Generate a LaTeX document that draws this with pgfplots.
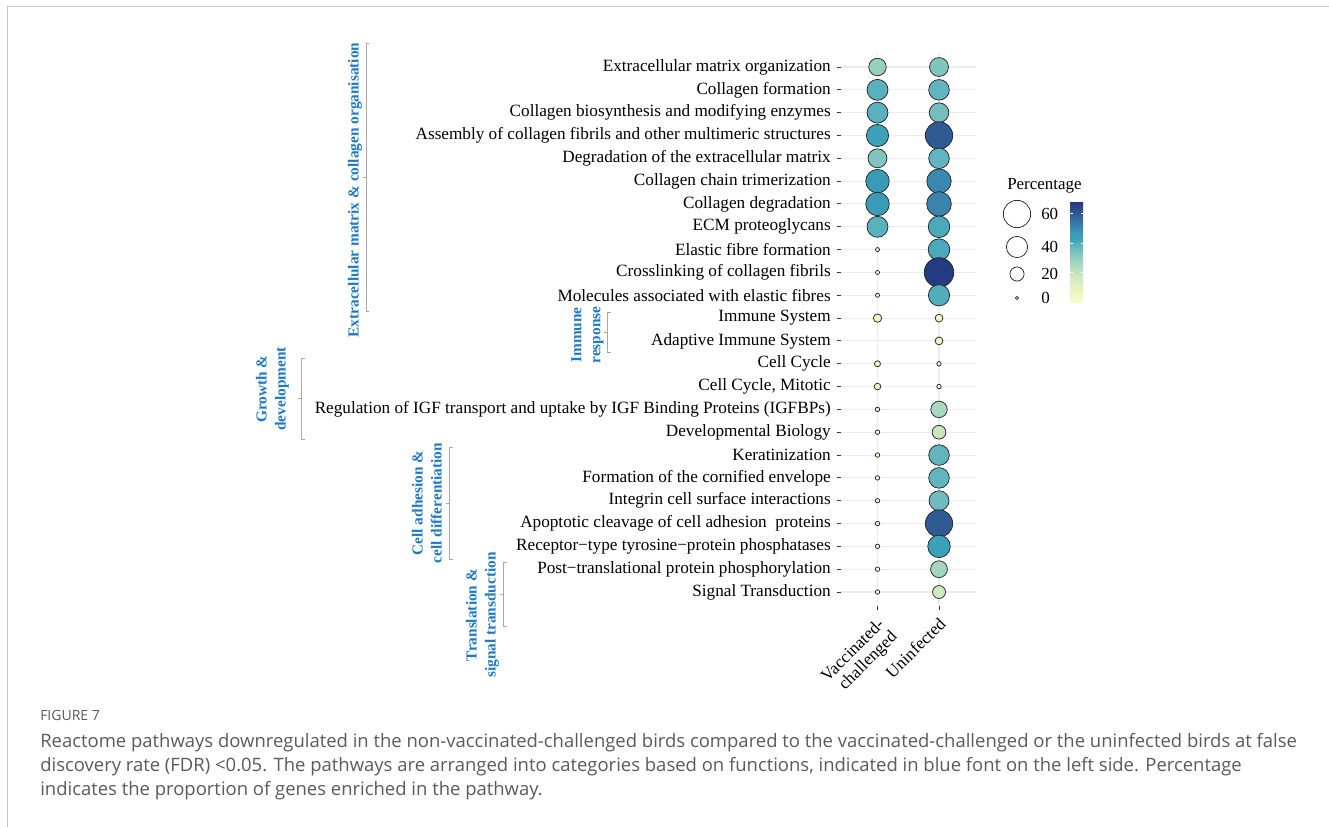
\documentclass[border=0pt]{standalone}
\usepackage{fontspec}
\setmainfont{Liberation Serif}
\newfontfamily\capfont{Open Sans}
\usepackage{pgfplots}
\pgfplotsset{compat=1.18}
\usetikzlibrary{calc}

\definecolor{catblue}{HTML}{1E78C8}
\definecolor{brk}{HTML}{A8A8A8}
\definecolor{gridc}{HTML}{EBEBEB}
\definecolor{tickc}{HTML}{333333}
\definecolor{capc}{HTML}{5A5A5A}
\definecolor{framec}{HTML}{C8C8C8}

\pgfplotsset{
  colormap={pct}{rgb255(0pt)=(250,250,205) rgb255(8pt)=(236,245,192)
    rgb255(18pt)=(205,233,192) rgb255(26pt)=(168,216,192)
    rgb255(32pt)=(136,200,190) rgb255(38pt)=(98,180,192)
    rgb255(43pt)=(58,163,184) rgb255(47pt)=(58,155,184)
    rgb255(50pt)=(58,136,176) rgb255(60pt)=(47,90,146)
    rgb255(68pt)=(35,56,128)},
  % bubble area grows with the percentage
  bubble/.style={scatter, only marks, mark=*, point meta=explicit,
    scatter/use mapped color={#1},
    visualization depends on={1.2+0.475*max(\thisrow{v},0.001)^0.72 \as \rad},
    scatter/@pre marker code/.append style={/tikz/mark size=\rad pt},
    mark options={line width=0.56pt}},
}

\newcommand\lblfont{\fontsize{12.9pt}{13.5pt}\selectfont}
\newcommand\catfont{\fontsize{11.5pt}{14.25pt}\selectfont\bfseries}

\begin{document}
\begin{tikzpicture}
\useasboundingbox (0pt,0pt) rectangle (996.75pt,-620.25pt);

% bubble panel
\begin{axis}[
  at={(630.45pt,-39.98pt)}, anchor=north west,
  scale only axis, width=101.5pt, height=414.3pt,
  xmin=-0.6, xmax=1.6, ymin=0.4, ymax=24.6, y dir=reverse,
  xtick={0,1}, ytick={1,...,24},
  xticklabels={{Vaccinated-\\challenged},{Uninfected}},
  yticklabels={
    Extracellular matrix organization,
    Collagen formation,
    Collagen biosynthesis and modifying enzymes,
    Assembly of collagen fibrils and other multimeric structures,
    Degradation of the extracellular matrix,
    Collagen chain trimerization,
    Collagen degradation,
    ECM proteoglycans,
    Elastic fibre formation,
    Crosslinking of collagen fibrils,
    Molecules associated with elastic fibres,
    Immune System,
    Adaptive Immune System,
    Cell Cycle,
    {Cell Cycle, Mitotic},
    Regulation of IGF transport and uptake by IGF Binding Proteins (IGFBPs),
    Developmental Biology,
    Keratinization,
    Formation of the cornified envelope,
    Integrin cell surface interactions,
    Apoptotic cleavage of cell adhesion\ \ proteins,
    Receptor−type tyrosine−protein phosphatases,
    Post−translational protein phosphorylation,
    Signal Transduction},
  yticklabel style={font=\lblfont, text=black, inner sep=0pt, xshift=-4.2pt},
  xticklabel style={font=\lblfont, text=black, rotate=45, anchor=north east,
    align=right, inner sep=0pt, yshift=-3pt, xshift=-4pt},
  axis line style={draw=none},
  tick align=outside, major tick length=3pt,
  tick style={tickc, line width=0.75pt},
  xtick pos=bottom, ytick pos=left,
  grid=major, major grid style={gridc, line width=0.8pt},
  clip=false,
  point meta min=0, point meta max=68, colormap name=pct,
  colorbar,
  colorbar style={
    at={($(parent axis.north east)+(62.3pt,-110.8pt)$)}, anchor=north west,
    width=9.5pt, height=76.3pt,
    ytick={20,40,60}, yticklabels={,,},
    yticklabel style={text opacity=0},
    major tick length=1.9pt, tick align=inside,
    tick style={white, line width=0.6pt},
    ytick pos=both, axis on top,
    axis line style={draw=none},
  },
]
\addplot[bubble={draw=black!85, fill=mapped color}]
  table[x=x, y=y, meta=v] {
x y v
0 1 29
0 2 39
0 3 39
0 4 43
0 5 33
0 6 47
0 7 47
0 8 39
0 9 0.6
0 10 0.6
0 11 0.6
0 12 7
0 14 3
0 15 4
0 16 1
0 17 1
0 18 1
0 19 1
0 20 1
0 21 1
0 22 1
0 23 1
0 24 1
1 1 33
1 2 38
1 3 35
1 4 60
1 5 38
1 6 50
1 7 51
1 8 41
1 9 41
1 10 67.6
1 11 40
1 12 6
1 13 6
1 14 1
1 15 1
1 16 26
1 17 19
1 18 38
1 19 38
1 20 36
1 21 60
1 22 44
1 23 27
1 24 17
};
\end{axis}

% size legend
\begin{axis}[
  at={(742.5pt,-127.5pt)}, anchor=north west,
  scale only axis, width=82.5pt, height=105pt,
  xmin=990, xmax=1100, ymin=170, ymax=310, y dir=reverse,
  hide axis, clip=false,
  point meta min=0, point meta max=68, colormap name=pct,
]
\addplot[bubble={draw=black!85, fill=white}]
  table[x=x, y=y, meta=v] {
x y v
1017 214 60
1017 247 40
1017 274 20
1017 298 0
};
\end{axis}

\begin{scope}[x=0.75pt, y=-0.75pt]
  % frame
  \draw[framec, line width=1.1pt] (1329,6.5) -- (7.5,6.5) -- (7.5,827);

  % legend text
  \node[anchor=west, inner sep=0pt, font=\fontsize{12.7pt}{14pt}\selectfont] at (1007,186) {Percentage};
  \foreach \yy/\tt in {214/60, 247/40, 274/20, 298/0}
    \node[anchor=west, inner sep=0pt, font=\fontsize{12.7pt}{14pt}\selectfont] at (1041,\yy) {\tt};

  % category brackets
  \begin{scope}[brk, line width=0.6pt]
    \draw (369,43) -- (366,43) -- (366,311) -- (369,311); \draw (366,177) -- (363,177);
    \draw (611,312) -- (607,312) -- (607,352) -- (611,352); \draw (607,332) -- (604,332);
    \draw (305,358) -- (301,358) -- (301,439) -- (305,439); \draw (301,398) -- (298,398);
    \draw (453,447) -- (449,447) -- (449,559) -- (453,559); \draw (449,503) -- (446,503);
    \draw (507,562) -- (503,562) -- (503,626) -- (507,626); \draw (503,594) -- (500,594);
  \end{scope}

  % category labels
  \begin{scope}[every node/.style={rotate=90, align=center, font=\catfont, text=catblue, inner sep=0pt}]
    \node at (355,190) {Extracellular matrix \& collagen organisation};
    \node at (587.5,335) {Immune\\response};
    \node at (272.5,389) {Growth \&\\development};
    \node at (427,503) {Cell adhesion \&\\cell differentiation};
    \node at (482.5,615) {Translation \&\\signal transduction};
  \end{scope}

  % caption
  \node[anchor=base west, inner sep=0pt, text=capc, font=\capfont\fontsize{10.5pt}{12pt}\selectfont] at (40,720) {FIGURE 7};
  \begin{scope}[every node/.style={anchor=base west, inner sep=0pt, text=capc, font=\capfont\fontsize{13.85pt}{16pt}\selectfont}]
    \node at (40,747) {Reactome pathways downregulated in the non-vaccinated-challenged birds compared to the vaccinated-challenged or the uninfected birds at false};
    \node at (40,771) {discovery rate (FDR) <0.05. The pathways are arranged into categories based on functions, indicated in blue font on the left side. Percentage};
    \node at (40,795) {indicates the proportion of genes enriched in the pathway.};
  \end{scope}
\end{scope}
\end{tikzpicture}
\end{document}
